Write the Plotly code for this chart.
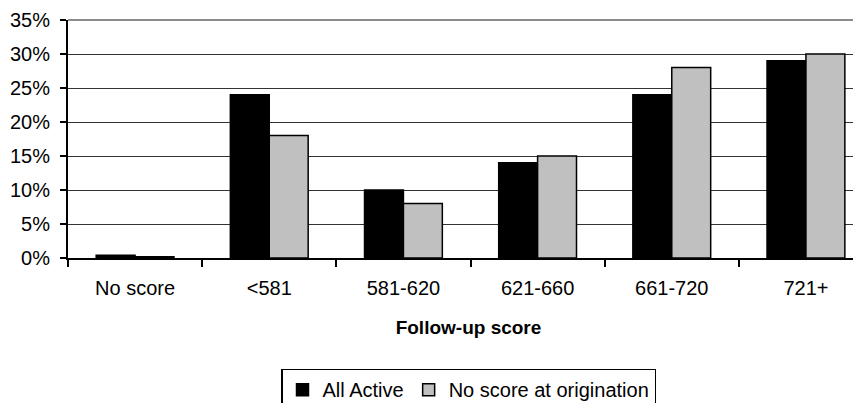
import plotly.graph_objects as go

categories = ["No score", "<581", "581-620", "621-660", "661-720", "721+"]
all_active = [0.4, 24, 10, 14, 24, 29]
no_score_orig = [0.2, 18, 8, 15, 28, 30]
y_ticks = [0, 5, 10, 15, 20, 25, 30, 35]
y_tick_labels = [f"{v}%" for v in y_ticks]

FONT = "Liberation Sans, Arial, sans-serif"
FS = 20

fig = go.Figure()
fig.add_trace(go.Bar(
    x=categories, y=all_active, name="All Active",
    marker=dict(color="#000000", line=dict(color="#000000", width=1.5)),
))
fig.add_trace(go.Bar(
    x=categories, y=no_score_orig, name="No score at origination",
    marker=dict(color="#c0c0c0", line=dict(color="#000000", width=1.5)),
))

fig.update_layout(
    width=861, height=403,
    margin=dict(l=60, r=0, t=12, b=153),
    paper_bgcolor="white", plot_bgcolor="white",
    barmode="group", bargap=0.42, bargroupgap=0,
    font=dict(family=FONT, size=FS, color="#000000"),
    showlegend=True,
    legend=dict(
        orientation="h", xref="paper", x=0.5, xanchor="center",
        yref="container", y=0.105, yanchor="top",
        bordercolor="#000000", borderwidth=1.5, bgcolor="white",
        font=dict(family=FONT, size=FS), itemwidth=30,
        tracegroupgap=0, traceorder="normal",
    ),
    shapes=[dict(type="line", xref="paper", yref="paper", x0=0, x1=1, y0=1, y1=1,
                 line=dict(color="#8c8c8c", width=2), layer="above")],
)
fig.update_xaxes(
    type="category", range=[-0.5, 5.47],
    showline=True, linecolor="#000000", linewidth=2,
    ticks="outside", tickson="boundaries", ticklen=7, tickwidth=2, tickcolor="#000000",
    showgrid=False,
    ticklabelstandoff=11,
    title=dict(text="<b>Follow-up score</b>", font=dict(family=FONT, size=FS - 1), standoff=23),
    tickfont=dict(family=FONT, size=FS),
    automargin=False,
)
fig.update_yaxes(
    range=[0, 35], tickvals=y_ticks, ticktext=y_tick_labels,
    showline=True, linecolor="#000000", linewidth=2,
    ticks="outside", ticklen=6, tickwidth=2, tickcolor="#000000",
    showgrid=True, gridcolor="#333333", gridwidth=1,
    zeroline=False,
    ticklabelstandoff=6,
    tickfont=dict(family=FONT, size=FS),
    automargin=False,
)

fig.write_html("out.html")
